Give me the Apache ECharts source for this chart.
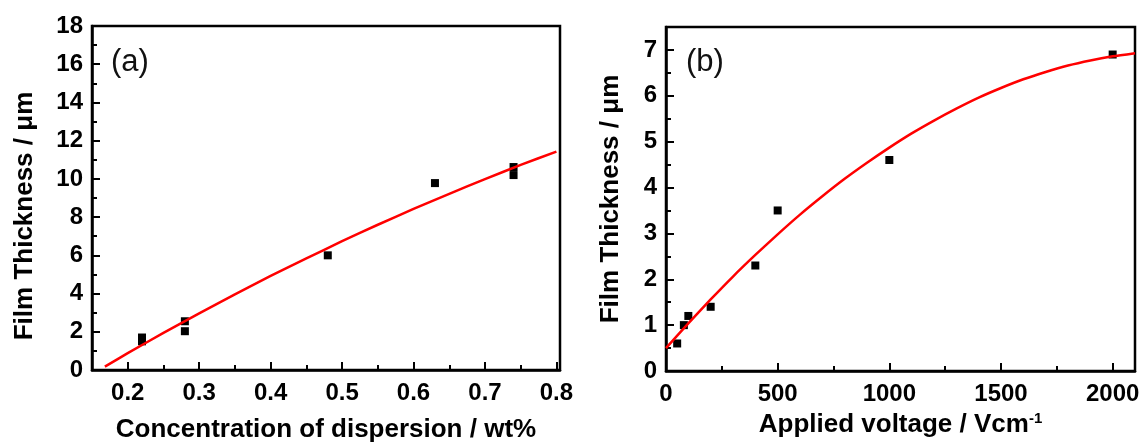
<!DOCTYPE html>
<html>
<head>
<meta charset="utf-8">
<script src="https://cdn.jsdelivr.net/npm/echarts@6/dist/echarts.min.js"></script>
<style>
  html, body { margin: 0; padding: 0; background: #fff; }
  #chart { width: 1144px; height: 442px; }
</style>
</head>
<body>
<div id="chart"></div>
<script>
// (a) film thickness vs concentration
const concA = [0.22, 0.22, 0.28, 0.28, 0.48, 0.63, 0.74, 0.74];
const thickA = [1.5, 1.7, 2.55, 2.03, 6.0, 9.78, 10.62, 10.2];
const fitConcA = [0.168, 0.2, 0.25, 0.3, 0.35, 0.4, 0.45, 0.5, 0.55, 0.6, 0.65, 0.7, 0.75, 0.8];
const fitThickA = [0.18, 0.88, 1.94, 2.96, 3.96, 4.92, 5.84, 6.74, 7.6, 8.43, 9.22, 9.99, 10.73, 11.43];
const ticksA = [0.2, 0.3, 0.4, 0.5, 0.6, 0.7, 0.8];
const minorTicksA = [0.15, 0.25, 0.35, 0.45, 0.55, 0.65, 0.75];

// (b) film thickness vs applied voltage
const voltB = [50, 80, 100, 200, 400, 500, 1000, 2000];
const thickB = [0.6, 1.0, 1.2, 1.4, 2.3, 3.5, 4.6, 6.9];
const fitVoltB = [0, 100, 200, 300, 400, 500, 600, 700, 800, 900, 1000, 1100, 1200, 1300,
    1400, 1500, 1600, 1700, 1800, 1900, 2000, 2100];
const fitThickB = [0.5, 1.04, 1.56, 2.06, 2.53, 2.98, 3.41, 3.81, 4.19, 4.54, 4.87, 5.18, 5.46, 5.72,
    5.96, 6.17, 6.36, 6.52, 6.66, 6.77, 6.86, 6.93];

const font = 'Arial, "Liberation Sans", sans-serif';

const zip = function (xs, ys) {
    return xs.map((x, i) => [x, ys[i]]);
};

const axisLine = { show: true, lineStyle: { color: '#000', width: 2.5 } };
const tickLabel = { color: '#000', fontSize: 24, fontWeight: 'bold', fontFamily: font };
const nameStyle = { color: '#000', fontSize: 26, fontWeight: 'bold', fontFamily: font };
const tickLine = { color: '#000', width: 2 };

const chart = echarts.init(document.getElementById('chart'));

chart.setOption({
    animation: false,
    textStyle: { fontFamily: font },
    title: [
        { text: '(a)', left: 106, top: 42, textStyle: { fontSize: 31, fontWeight: 'normal', color: '#111', fontFamily: font } },
        { text: '(b)', left: 681, top: 42, textStyle: { fontSize: 31, fontWeight: 'normal', color: '#111', fontFamily: font } }
    ],
    grid: [
        { left: 92, right: 584, top: 26, bottom: 72, outerBoundsMode: 'none', show: true, borderColor: '#000', borderWidth: 2.5 },
        { left: 666, right: 9, top: 27, bottom: 71, outerBoundsMode: 'none', show: true, borderColor: '#000', borderWidth: 2.5 }
    ],
    xAxis: [
        {
            // (a) main x axis
            type: 'value', gridIndex: 0, min: 0.15, max: 0.805,
            name: 'Concentration of dispersion / wt%',
            nameLocation: 'middle', nameGap: 47, nameTextStyle: nameStyle,
            axisLine: axisLine,
            axisTick: { show: true, inside: true, length: 8, customValues: ticksA, lineStyle: tickLine },
            axisLabel: Object.assign({ margin: 11, customValues: ticksA }, tickLabel),
            splitLine: { show: false }
        },
        {
            // (a) minor ticks only
            type: 'value', gridIndex: 0, min: 0.15, max: 0.805, position: 'bottom',
            axisLine: { show: false },
            axisTick: { show: true, inside: true, length: 5, customValues: minorTicksA, lineStyle: tickLine },
            axisLabel: { show: false },
            splitLine: { show: false }
        },
        {
            // (b) x axis
            type: 'value', gridIndex: 1, min: 0, max: 2100, interval: 500,
            name: '{n|Applied voltage / Vcm}{s|-1}',
            nameLocation: 'middle', nameGap: 32,
            nameTextStyle: {
                rich: {
                    n: nameStyle,
                    s: { color: '#000', fontSize: 15, fontWeight: 'bold', fontFamily: font, verticalAlign: 'top', padding: [0, 0, 12, 0] }
                }
            },
            axisLine: axisLine,
            axisTick: { show: true, inside: true, length: 8, lineStyle: tickLine },
            minorTick: { show: true, splitNumber: 2, length: 5, lineStyle: tickLine },
            axisLabel: Object.assign({
                margin: 11, showMaxLabel: false,
                formatter: function (v) { return String(v); }
            }, tickLabel),
            splitLine: { show: false }
        }
    ],
    yAxis: [
        {
            type: 'value', gridIndex: 0, min: 0, max: 18, interval: 2,
            name: 'Film Thickness / μm',
            nameLocation: 'middle', nameGap: 54,
            nameTextStyle: Object.assign({ padding: [0, 36, 0, 0] }, nameStyle),
            axisLine: axisLine,
            axisTick: { show: true, inside: true, length: 8, lineStyle: tickLine },
            minorTick: { show: true, splitNumber: 2, length: 5, lineStyle: tickLine },
            axisLabel: Object.assign({ margin: 9 }, tickLabel),
            splitLine: { show: false }
        },
        {
            type: 'value', gridIndex: 1, min: 0, max: 7.5, interval: 1,
            name: 'Film Thickness / μm',
            nameLocation: 'middle', nameGap: 42, nameTextStyle: nameStyle,
            axisLine: axisLine,
            axisTick: { show: true, inside: true, length: 8, lineStyle: tickLine },
            minorTick: { show: true, splitNumber: 2, length: 5, lineStyle: tickLine },
            axisLabel: Object.assign({ margin: 9, showMaxLabel: false }, tickLabel),
            splitLine: { show: false }
        }
    ],
    series: [
        {
            type: 'line', xAxisIndex: 0, yAxisIndex: 0,
            data: zip(fitConcA, fitThickA),
            smooth: 0.2, showSymbol: false,
            lineStyle: { color: '#ff0000', width: 2.5 }
        },
        {
            type: 'scatter', xAxisIndex: 0, yAxisIndex: 0,
            data: zip(concA, thickA),
            symbol: 'rect', symbolSize: 8,
            itemStyle: { color: '#000', opacity: 1 }
        },
        {
            type: 'line', xAxisIndex: 2, yAxisIndex: 1,
            data: zip(fitVoltB, fitThickB),
            smooth: 0.2, showSymbol: false,
            lineStyle: { color: '#ff0000', width: 2.5 }
        },
        {
            type: 'scatter', xAxisIndex: 2, yAxisIndex: 1,
            data: zip(voltB, thickB),
            symbol: 'rect', symbolSize: 8,
            itemStyle: { color: '#000', opacity: 1 }
        }
    ]
});
</script>
</body>
</html>
